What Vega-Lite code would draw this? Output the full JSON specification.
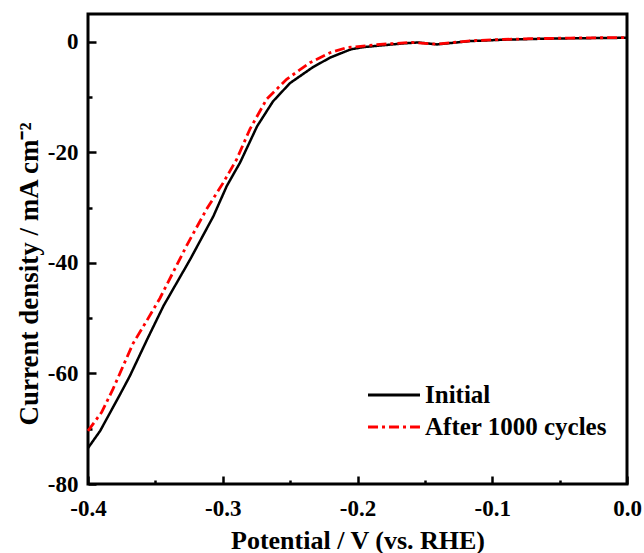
{
  "$schema": "https://vega.github.io/schema/vega-lite/v6.json",
  "width": 539,
  "height": 470,
  "autosize": {"type": "none"},
  "padding": {"left": 88, "top": 14, "right": 17, "bottom": 69},
  "background": "white",
  "config": {
    "view": {"stroke": "black", "strokeWidth": 3},
    "font": "Liberation Serif",
    "axis": {
      "grid": false,
      "domain": false,
      "labelFlush": false,
      "labelOverlap": false,
      "labelFont": "Liberation Serif",
      "labelFontWeight": "bold",
      "labelFontSize": 23,
      "labelColor": "black",
      "titleFont": "Liberation Serif",
      "titleFontWeight": "bold",
      "titleColor": "black",
      "tickColor": "black"
    },
    "legend": {
      "orient": "none",
      "legendX": 293.5,
      "legendY": 368.5,
      "padding": 0,
      "labelFont": "Liberation Serif",
      "labelFontWeight": "bold",
      "labelFontSize": 25,
      "labelColor": "black",
      "labelOffset": 18.5,
      "labelLimit": 0,
      "rowPadding": 6,
      "symbolType": "M-5,0H5",
      "symbolSize": 108,
      "symbolStrokeWidth": 3
    }
  },
  "data": {
    "values": [
      {"series": "Initial", "v": -0.400, "j": -73.5},
      {"series": "Initial", "v": -0.391, "j": -70.4},
      {"series": "Initial", "v": -0.376, "j": -63.7},
      {"series": "Initial", "v": -0.369, "j": -60.5},
      {"series": "Initial", "v": -0.356, "j": -53.8},
      {"series": "Initial", "v": -0.344, "j": -47.8},
      {"series": "Initial", "v": -0.324, "j": -39.3},
      {"series": "Initial", "v": -0.307, "j": -31.6},
      {"series": "Initial", "v": -0.297, "j": -26.1},
      {"series": "Initial", "v": -0.287, "j": -21.8},
      {"series": "Initial", "v": -0.2745, "j": -15.3},
      {"series": "Initial", "v": -0.2627, "j": -10.8},
      {"series": "Initial", "v": -0.2501, "j": -7.5},
      {"series": "Initial", "v": -0.233, "j": -4.6},
      {"series": "Initial", "v": -0.220, "j": -2.85},
      {"series": "Initial", "v": -0.205, "j": -1.4},
      {"series": "Initial", "v": -0.196, "j": -1.0},
      {"series": "Initial", "v": -0.183, "j": -0.7},
      {"series": "Initial", "v": -0.165, "j": -0.3},
      {"series": "Initial", "v": -0.155, "j": -0.15},
      {"series": "Initial", "v": -0.141, "j": -0.5},
      {"series": "Initial", "v": -0.1165, "j": 0.1},
      {"series": "Initial", "v": -0.092, "j": 0.35},
      {"series": "Initial", "v": -0.067, "j": 0.5},
      {"series": "Initial", "v": -0.042, "j": 0.6},
      {"series": "Initial", "v": 0.0, "j": 0.7},
      {"series": "After 1000 cycles", "v": -0.400, "j": -70.4},
      {"series": "After 1000 cycles", "v": -0.3898, "j": -67.0},
      {"series": "After 1000 cycles", "v": -0.3814, "j": -62.8},
      {"series": "After 1000 cycles", "v": -0.374, "j": -58.7},
      {"series": "After 1000 cycles", "v": -0.3666, "j": -54.6},
      {"series": "After 1000 cycles", "v": -0.3562, "j": -50.4},
      {"series": "After 1000 cycles", "v": -0.3466, "j": -46.4},
      {"series": "After 1000 cycles", "v": -0.3268, "j": -36.9},
      {"series": "After 1000 cycles", "v": -0.312, "j": -30.3},
      {"series": "After 1000 cycles", "v": -0.2996, "j": -25.5},
      {"series": "After 1000 cycles", "v": -0.2897, "j": -21.3},
      {"series": "After 1000 cycles", "v": -0.2798, "j": -15.8},
      {"series": "After 1000 cycles", "v": -0.2674, "j": -10.4},
      {"series": "After 1000 cycles", "v": -0.2526, "j": -6.8},
      {"series": "After 1000 cycles", "v": -0.2353, "j": -3.8},
      {"series": "After 1000 cycles", "v": -0.2204, "j": -2.0},
      {"series": "After 1000 cycles", "v": -0.208, "j": -1.08},
      {"series": "After 1000 cycles", "v": -0.1833, "j": -0.5},
      {"series": "After 1000 cycles", "v": -0.16, "j": -0.15},
      {"series": "After 1000 cycles", "v": -0.141, "j": -0.45},
      {"series": "After 1000 cycles", "v": -0.1165, "j": 0.15},
      {"series": "After 1000 cycles", "v": -0.092, "j": 0.4},
      {"series": "After 1000 cycles", "v": -0.067, "j": 0.55},
      {"series": "After 1000 cycles", "v": -0.042, "j": 0.65},
      {"series": "After 1000 cycles", "v": 0.0, "j": 0.75}
    ]
  },
  "layer": [
    {
      "transform": [{"filter": "false"}],
      "mark": {"type": "line"},
      "encoding": {
        "x": {"field": "v", "type": "quantitative", "scale": {"domain": [-0.4, 0], "nice": false, "zero": false},
          "axis": {"orient": "bottom", "values": [-0.35, -0.25, -0.15, -0.05], "labels": false, "title": null, "tickSize": -4, "tickWidth": 2.5}},
        "y": {"field": "j", "type": "quantitative", "scale": {"domain": [-80, 5], "nice": false, "zero": false},
          "axis": {"orient": "left", "values": [-70, -50, -30, -10], "labels": false, "title": null, "tickSize": -4, "tickWidth": 2.5}}
      }
    },
    {
      "transform": [{"filter": "datum.series == 'Initial'"}],
      "mark": {"type": "line", "strokeWidth": 2.5},
      "encoding": {
        "x": {"field": "v", "type": "quantitative", "scale": {"domain": [-0.4, 0], "nice": false, "zero": false},
          "axis": {"orient": "bottom", "values": [-0.4, -0.3, -0.2, -0.1, 0], "ticks": false, "labelPadding": 13,
            "labelExpr": "replace(format(datum.value, '.1f'), '\u2212', '-')",
            "title": "Potential / V (vs. RHE)", "titleFontSize": 26, "titleBaseline": "alphabetic", "titleY": 64, "titleX": 269.5, "titleAnchor": "middle"}},
        "y": {"field": "j", "type": "quantitative", "scale": {"domain": [-80, 5], "nice": false, "zero": false},
          "axis": {"orient": "left", "values": [-80, -60, -40, -20, 0], "ticks": false, "labelPadding": 10,
            "labelExpr": "replace(format(datum.value, 'd'), '\u2212', '-')",
            "title": "Current density / mA cm\u207b\u00b2", "titleFontSize": 27, "titleAngle": -90, "titleBaseline": "alphabetic", "titleX": -51, "titleY": 259.5, "titleAlign": "center"}},
        "order": {"field": "v", "type": "quantitative"},
        "color": {"field": "series", "type": "nominal", "scale": {"domain": ["Initial", "After 1000 cycles"], "range": ["black", "#ff0000"]}, "legend": {"title": null}},
        "strokeDash": {"field": "series", "type": "nominal", "scale": {"domain": ["Initial", "After 1000 cycles"], "range": [[1, 0], [10, 4, 3, 4]]}, "legend": {"title": null}}
      }
    },
    {
      "transform": [{"filter": "datum.series == 'After 1000 cycles'"}],
      "mark": {"type": "line", "strokeWidth": 2.8},
      "encoding": {
        "x": {"field": "v", "type": "quantitative", "scale": {"domain": [-0.4, 0], "nice": false, "zero": false},
          "axis": {"orient": "bottom", "values": [-0.4, -0.3, -0.2, -0.1, 0], "labels": false, "title": null, "tickSize": -8, "tickWidth": 2.5}},
        "y": {"field": "j", "type": "quantitative", "scale": {"domain": [-80, 5], "nice": false, "zero": false},
          "axis": {"orient": "left", "values": [-80, -60, -40, -20, 0], "labels": false, "title": null, "tickSize": -8, "tickWidth": 2.5}},
        "order": {"field": "v", "type": "quantitative"},
        "color": {"field": "series", "type": "nominal", "scale": {"domain": ["Initial", "After 1000 cycles"], "range": ["black", "#ff0000"]}, "legend": {"title": null}},
        "strokeDash": {"field": "series", "type": "nominal", "scale": {"domain": ["Initial", "After 1000 cycles"], "range": [[1, 0], [10, 4, 3, 4]]}, "legend": {"title": null}}
      }
    }
  ],
  "resolve": {"axis": {"x": "independent", "y": "independent"}}
}
